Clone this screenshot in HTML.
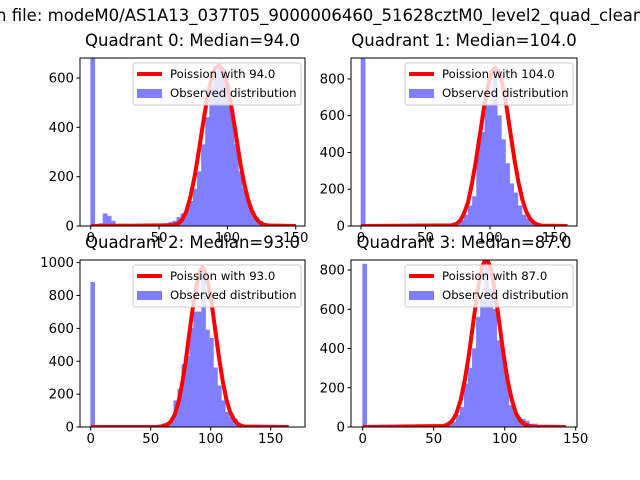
<!DOCTYPE html>
<html><head><meta charset="utf-8"><style>
html,body{margin:0;padding:0;background:#fff;}
svg{display:block;font-family:"DejaVu Sans","Liberation Sans",sans-serif;}
</style></head><body>
<svg id="chart" width="640" height="480" viewBox="0 0 640 480">
<text x="-4" y="21" font-size="16.5" fill="#000">n file: modeM0/AS1A13_037T05_9000006460_51628cztM0_level2_quad_clean</text>
</svg>
<script>
// ---- Data ----
const titles = ["Quadrant 0: Median=94.0","Quadrant 1: Median=104.0","Quadrant 2: Median=93.0","Quadrant 3: Median=87.0"];
const legendLabels = ["Poission with 94.0","Poission with 104.0","Poission with 93.0","Poission with 87.0"];
const binWidths = [3, 3.2, 3.3, 2.86];
const q0BinStarts = [0,3,6,9,12,15,18,21,24,42,45,51,54,57,60,63,66,69,72,75,78,81,84,87,90,93,96,99,102,105,108,111,114,117,120,123,126,129,132,135,138,141,144,147];
const q0Counts    = [700,5,10,50,40,20,5,3,2,8,3,5,10,15,20,35,50,70,100,150,220,330,440,560,620,640,640,570,470,330,220,150,100,60,35,20,10,5,3,2,2,1,1,1];
const q1BinStarts = [0,64,67.2,70.4,73.6,76.8,80,83.2,86.4,89.6,92.8,96,99.2,102.4,105.6,108.8,112,115.2,118.4,121.6,124.8,128,131.2,134.4,137.6,140.8,144];
const q1Counts    = [950,3,5,8,15,30,60,110,160,450,510,660,660,860,600,470,340,230,180,110,60,40,20,10,5,3,2];
const q2BinStarts = [0,59.4,62.7,66,69.3,72.6,75.9,79.2,82.5,85.8,89.1,92.4,95.7,99,102.3,105.6,108.9,112.2,115.5,118.8,122.1,125.4,128.7,132,135.3];
const q2Counts    = [880,20,20,30,160,230,380,430,600,700,700,960,590,540,360,250,160,90,60,50,20,10,5,5,2];
const q3BinStarts = [0,57.2,60.06,62.92,65.78,68.64,71.5,74.36,77.22,80.08,82.94,85.8,88.66,91.52,94.38,97.24,100.1,102.96,105.82,108.68,111.54,114.4,117.26,120.12,122.98,125.84,128.7,131.56,134.42];
const q3Counts    = [830,10,20,25,60,100,220,300,400,560,650,850,700,600,440,400,260,110,80,50,40,30,15,15,8,5,5,3,2];
const q0CurveX = [0,60,64,67,70,73,76,79,82,85,88,91,94,97,100,103,106,109,112,115,118,121,124,127,130,150];
const q0CurveY = [0,3,10,25,60,120,200,300,410,510,590,640,650,630,570,480,380,270,180,110,60,30,12,5,2,0];
const q1CurveX = [0,70,74,77,80,83,86,89,92,95,98,101,104,107,110,113,116,119,122,125,128,131,134,137,140,160];
const q1CurveY = [0,3,12,30,70,130,230,350,490,630,750,835,860,835,760,640,500,360,240,145,80,40,18,7,2,0];
const q2CurveX = [0,55,60,64,67,70,73,76,79,82,85,88,91,93,95,98,101,104,107,110,113,116,119,122,125,128,165];
const q2CurveY = [0,0,5,15,35,75,145,255,390,560,720,850,950,970,955,870,740,580,420,280,170,95,50,22,9,3,0];
const q3CurveX = [0,57,60,63,66,69,72,75,78,81,84,87,90,93,96,99,102,105,108,111,114,117,120,143];
const q3CurveY = [0,5,14,31,69,138,241,378,542,697,817,860,817,697,542,378,241,138,69,31,14,5,2,0];
const xTicks = [[0,50,100,150],[0,50,100,150],[0,50,100,150],[0,50,100,150]];
const yTicks = [[0,200,400,600],[0,200,400,600,800],[0,200,400,600,800,1000],[0,200,400,600,800]];
// ---- Layout ----
const panels = [
 {l:80,r:305,t:58,b:226,x0:90.7,xs:1.367,ymax:681,bs:q0BinStarts,bc:q0Counts,cx:q0CurveX,cy:q0CurveY},
 {l:351,r:577,t:58,b:226,x0:361,xs:1.29,ymax:914,bs:q1BinStarts,bc:q1Counts,cx:q1CurveX,cy:q1CurveY},
 {l:80,r:305,t:260,b:427,x0:90.7,xs:1.2,ymax:1016,bs:q2BinStarts,bc:q2Counts,cx:q2CurveX,cy:q2CurveY},
 {l:351,r:577,t:260,b:427,x0:362.7,xs:1.42,ymax:851,bs:q3BinStarts,bc:q3Counts,cx:q3CurveX,cy:q3CurveY}
];
const NS="http://www.w3.org/2000/svg";
const svg=document.getElementById('chart');
function mk(tag,attrs,parent){const e=document.createElementNS(NS,tag);for(const k in attrs)e.setAttribute(k,attrs[k]);(parent||svg).appendChild(e);return e;}
panels.forEach((p,i)=>{
  const g=mk('g',{});
  
  
  const X=v=>p.x0+v*p.xs;
  const Y=v=>p.b-(Math.min(v,p.ymax*1.05))*(p.b-p.t)/p.ymax;
  const cp='clip'+i;
  const cl=mk('clipPath',{id:cp},g); mk('rect',{x:p.l,y:p.t,width:p.r-p.l,height:p.b-p.t},cl);
  const plot=mk('g',{'clip-path':'url(#'+cp+')'},g);
  p.bs.forEach((s,j)=>{
    const y=Y(p.bc[j]);
    const r=mk('rect',{x:X(s),y:y,width:X(s+binWidths[i])-X(s),height:p.b-y,fill:'#8080ff',stroke:'#8080ff','stroke-width':0.6},plot);
    
    
  });
  const pts=p.cx.map((x,j)=>X(x).toFixed(1)+','+Y(p.cy[j]).toFixed(1)).join(' ');
  const line=mk('polyline',{points:pts,fill:'none',stroke:'#ff0000','stroke-width':4,'stroke-linejoin':'round'},plot);
  
  
  const fr=mk('rect',{x:p.l,y:p.t,width:p.r-p.l,height:p.b-p.t,fill:'none',stroke:'#000','stroke-width':1},g);
  
  
  xTicks[i].forEach(v=>{
    mk('line',{x1:X(v),x2:X(v),y1:p.b,y2:p.b+3.5,stroke:'#000'},g);
    const t=mk('text',{x:X(v),y:p.b+16,'font-size':13.3,'text-anchor':'middle'},g);
    t.textContent=v;
    
    
  });
  yTicks[i].forEach(v=>{
    const y=p.b-v*(p.b-p.t)/p.ymax;
    mk('line',{x1:p.l-3.5,x2:p.l,y1:y,y2:y,stroke:'#000'},g);
    const t=mk('text',{x:p.l-6,y:y+4.5,'font-size':13.3,'text-anchor':'end'},g);
    t.textContent=v;
    
    
  });
  const tt=mk('text',{x:(p.l+p.r)/2,y:p.t-12,'font-size':16.5,'text-anchor':'middle'},g);
  tt.textContent=titles[i];
  
  
  const lg=mk('g',{},g);
  
  
  const lx=p.r-172, ly=p.t+5;
  mk('rect',{x:lx,y:ly,width:168,height:42,rx:2,fill:'#fff','fill-opacity':0.8,stroke:'#ccc','stroke-width':1},lg);
  mk('line',{x1:lx+4,x2:lx+29,y1:ly+11,y2:ly+11,stroke:'#ff0000','stroke-width':4},lg);
  const t1=mk('text',{x:lx+37,y:ly+15,'font-size':11.7},lg); t1.textContent=legendLabels[i];
  
  
  mk('rect',{x:lx+4,y:ly+26,width:25,height:9,fill:'#8080ff'},lg);
  const t2=mk('text',{x:lx+37,y:ly+34,'font-size':11.7},lg); t2.textContent='Observed distribution';
  
  
});
</script>
</body></html>
